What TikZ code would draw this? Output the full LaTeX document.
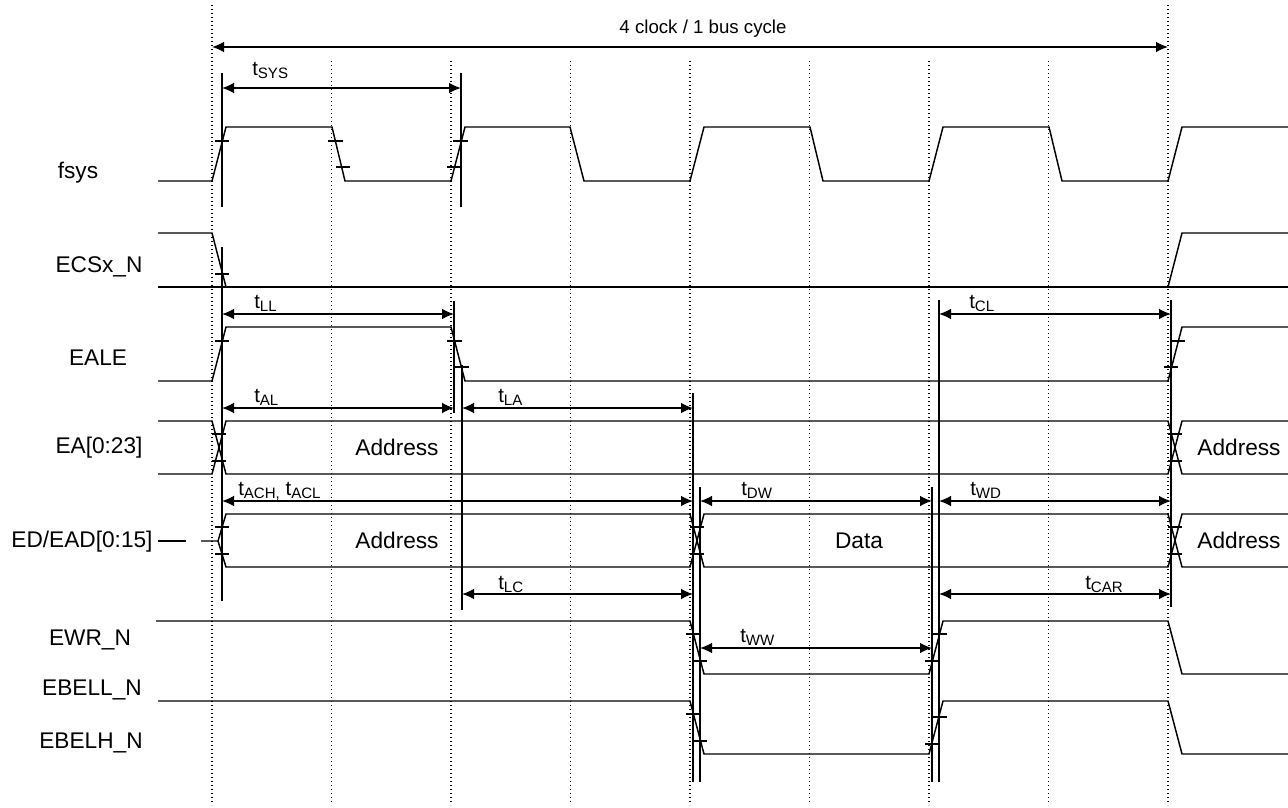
\documentclass[tikz,border=0pt]{standalone}
\usepackage{fontspec}
\setmainfont{Liberation Sans}
\usetikzlibrary{arrows.meta}
\newcommand{\tsb}[1]{t\raisebox{-2.3pt}{\fontsize{11.3pt}{12pt}\selectfont #1}}
\begin{document}
\begin{tikzpicture}[x=0.75pt,y=-0.75pt,
  sig/.style={line width=1.1pt, line join=miter},
  tickmark/.style={line width=1.1pt},
  refline/.style={line width=1.1pt},
  gridline/.style={line width=0.8pt, dash pattern=on 0.8pt off 2.2pt},
  dim/.style={line width=1.1pt, {Latex[length=9pt,width=8pt]}-{Latex[length=9pt,width=8pt]}},
  lbl/.style={font=\fontsize{17pt}{19pt}\selectfont, inner sep=0pt, anchor=base},
  toplbl/.style={font=\fontsize{14pt}{16pt}\selectfont, inner sep=0pt, anchor=base},
  tl/.style={font=\fontsize{15.3pt}{17pt}\selectfont, inner sep=0pt, anchor=base west}]
\useasboundingbox (0,0) rectangle (1288,807);

% dotted clock grid
\foreach \x in {331.5,451,570.5,690,809.5,929,1048.5} \draw[gridline] (\x,61)--(\x,805);
\foreach \x in {212,1168} \draw[gridline] (\x,5)--(\x,805);

% signal names
\node[lbl] (nfsys) at (78,178) {fsys};
\node[lbl] (necs) at (99,272) {ECSx\_N};
\node[lbl] (neale) at (98,365) {EALE};
\node[lbl] (nea) at (99,453) {EA[0:23]};
\node[lbl] (ned) at (82,547) {ED/EAD[0:15]};
\node[lbl] (newr) at (90,645) {EWR\_N};
\node[lbl] (nbell) at (92,695) {EBELL\_N};
\node[lbl] (nbelh) at (91,748) {EBELH\_N};

% fsys
\draw[sig] (158,181)--(212,181)--(226,127)--(332,127)--(345,181)--(451,181)--(465,127)--(570,127)--(584,181)--(690,181)--(704,127)--(810,127)--(823,181)--(929,181)--(943,127)--(1049,127)--(1062,181)--(1168,181)--(1182,127)--(1288,127);
% ECSx_N
\draw[sig] (158,287)--(1288,287);
\draw[sig] (158,233)--(212,233)--(226,287);
\draw[sig] (1168,287)--(1182,233)--(1288,233);
% EALE
\draw[sig] (158,381)--(212,381)--(226,327)--(451,327)--(465,381)--(1168,381)--(1182,327)--(1288,327);
% EA[0:23]
\draw[sig] (158,421)--(212,421)--(226,474)--(1168,474)--(1182,421)--(1288,421);
\draw[sig] (158,474)--(212,474)--(226,421)--(1168,421)--(1182,474)--(1288,474);
% ED/EAD[0:15]
\draw[sig] (158,541)--(186,541);
\draw[sig] (201,541)--(218,541)--(226,514)--(690,514)--(704,567)--(1168,567)--(1182,514)--(1288,514);
\draw[sig] (218,541)--(226,567)--(690,567)--(704,514)--(1168,514)--(1182,567)--(1288,567);
% EWR_N
\draw[sig] (156,621)--(690,621)--(704,674)--(929,674)--(943,621)--(1168,621)--(1182,674)--(1288,674);
% EBELL_N / EBELH_N
\draw[sig] (158,701)--(690,701)--(704,754)--(929,754)--(943,701)--(1168,701)--(1182,754)--(1288,754);

% threshold ticks
\foreach \a/\b/\y in {215/229/141, 328/343/141, 336/350/167, 453/468/141, 447/462/167,
  215/229/274,
  215/229/341, 447/462/341, 455/469/367, 1170/1185/341, 1164/1178/367,
  212/226/434, 212/226/461, 1168/1182/434, 1168/1182/461,
  215/229/527, 215/229/554, 690/704/527, 690/704/554, 1168/1182/527, 1168/1182/554,
  686/700/634, 692/707/661, 933/947/634, 925/940/661,
  686/700/714, 692/707/741, 933/947/717, 925/940/744}
  \draw[tickmark] (\a,\y)--(\b,\y);

% reference lines
\draw[refline] (222,73)--(222,207);
\draw[refline] (461,73)--(461,207);
\draw[refline] (222,247)--(222,601);
\draw[refline] (454,301)--(454,413);
\draw[refline] (462,365)--(462,610);
\draw[refline] (693,393)--(693,782);
\draw[refline] (700,487)--(700,782);
\draw[refline] (932,487)--(932,782);
\draw[refline] (939,300)--(939,782);
\draw[refline] (1171,300)--(1171,607);

% dimension end points
\coordinate (bc1) at (212,47);   \coordinate (bc2) at (1168,47);
\coordinate (sy1) at (222,88);   \coordinate (sy2) at (461,88);
\coordinate (ll1) at (222,314);  \coordinate (ll2) at (454,314);
\coordinate (cl1) at (939,314);  \coordinate (cl2) at (1171,314);
\coordinate (al1) at (222,408);  \coordinate (al2) at (454,408);
\coordinate (la1) at (462,408);  \coordinate (la2) at (693,408);
\coordinate (ac1) at (222,501);  \coordinate (ac2) at (693,501);
\coordinate (dw1) at (700,501);  \coordinate (dw2) at (932,501);
\coordinate (wd1) at (939,501);  \coordinate (wd2) at (1171,501);
\coordinate (lc1) at (462,594);  \coordinate (lc2) at (693,594);
\coordinate (ca1) at (939,594);  \coordinate (ca2) at (1171,594);
\coordinate (ww1) at (700,648);  \coordinate (ww2) at (932,648);

\draw[dim] (bc1)--(bc2);
\draw[dim] (sy1)--(sy2);
\draw[dim] (ll1)--(ll2);
\draw[dim] (cl1)--(cl2);
\draw[dim] (al1)--(al2);
\draw[dim] (la1)--(la2);
\draw[dim] (ac1)--(ac2);
\draw[dim] (dw1)--(dw2);
\draw[dim] (wd1)--(wd2);
\draw[dim] (lc1)--(lc2);
\draw[dim] (ca1)--(ca2);
\draw[dim] (ww1)--(ww2);

% dimension labels
\node[toplbl] (lbc) at (703,33) {4 clock / 1 bus cycle};
\node[tl] (lsy) at (252,75) {\tsb{SYS}};
\node[tl] (lll) at (254,308) {\tsb{LL}};
\node[tl] (lcl) at (969,308) {\tsb{CL}};
\node[tl] (lal) at (254,402) {\tsb{AL}};
\node[tl] (lla) at (498,402) {\tsb{LA}};
\node[tl] (lac) at (238,495) {\tsb{ACH,} \tsb{ACL}};
\node[tl] (ldw) at (741,495) {\tsb{DW}};
\node[tl] (lwd) at (970,495) {\tsb{WD}};
\node[tl] (llc) at (498,589) {\tsb{LC}};
\node[tl] (lca) at (1085,589) {\tsb{CAR}};
\node[tl] (lww) at (740,642) {\tsb{WW}};

% bus contents
\node[lbl] (ea1) at (397,455) {Address};
\node[lbl] (ea2) at (1239,455) {Address};
\node[lbl] (ed1) at (397,548) {Address};
\node[lbl] (ed2) at (859,548) {Data};
\node[lbl] (ed3) at (1239,548) {Address};
\end{tikzpicture}
\end{document}
